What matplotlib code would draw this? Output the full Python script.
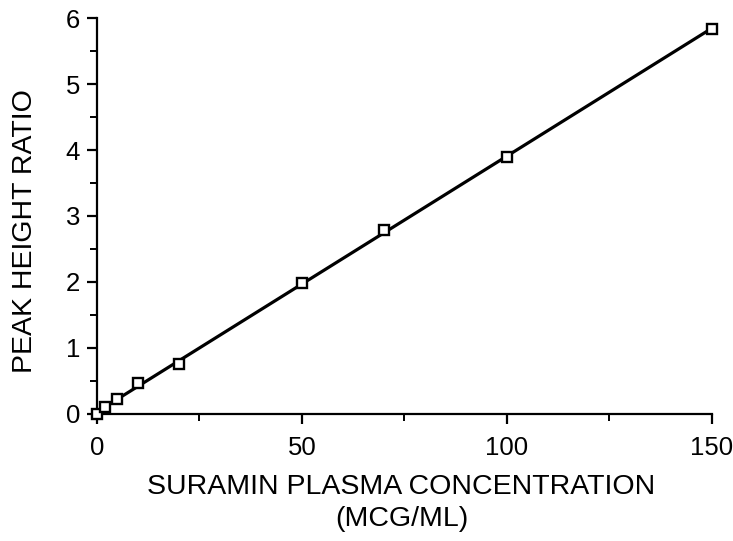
import matplotlib
matplotlib.use('Agg')
import matplotlib.pyplot as plt
import numpy as np

# calibration points
conc = [0, 2, 5, 10, 20, 50, 70, 100, 150]
ratio = [0.0, 0.1, 0.23, 0.47, 0.76, 1.98, 2.79, 3.90, 5.83]

x_major = [0, 50, 100, 150]
x_minor = [25, 75, 125]
y_major = [0, 1, 2, 3, 4, 5, 6]
y_minor = [0.5, 1.5, 2.5, 3.5, 4.5, 5.5]

plt.rcParams['font.family'] = ['Liberation Sans', 'DejaVu Sans']

fig = plt.figure(figsize=(7.33, 5.41), dpi=100)
ax = fig.add_axes([0.1323, 0.2348, 0.839, 0.7319])

# least-squares line through the points
slope, icpt = np.polyfit(conc, ratio, 1)
xs = np.array([0, 150])
ax.plot(xs, slope * xs + icpt, color='black', lw=2.3, zorder=2, clip_on=False)
ax.plot(conc, ratio, linestyle='none', marker='s', markersize=7.5,
        markerfacecolor='white', markeredgecolor='black', markeredgewidth=1.7,
        zorder=3, clip_on=False)

ax.set_xlim(0, 150)
ax.set_ylim(0, 6)
ax.set_xticks(x_major)
ax.set_xticks(x_minor, minor=True)
ax.set_yticks(y_major)
ax.set_yticks(y_minor, minor=True)

for s in ['top', 'right']:
    ax.spines[s].set_visible(False)
for s in ['left', 'bottom']:
    ax.spines[s].set_linewidth(1.6)
ax.tick_params(axis='both', which='major', direction='out', length=7.2, width=1.6,
               labelsize=18.5)
ax.tick_params(axis='x', which='major', pad=9)
ax.tick_params(axis='y', which='major', pad=5)
ax.tick_params(axis='both', which='minor', direction='out', length=5, width=1.4)

ax.set_xlabel('SURAMIN PLASMA CONCENTRATION\n(MCG/ML)', fontsize=20.5,
              linespacing=1.3)
ax.set_ylabel('PEAK HEIGHT RATIO', fontsize=20.5)
ax.xaxis.set_label_coords(0.495, -0.152)
ax.yaxis.set_label_coords(-0.096, 0.462)

fig.savefig('out.png', dpi=100, facecolor='white')
